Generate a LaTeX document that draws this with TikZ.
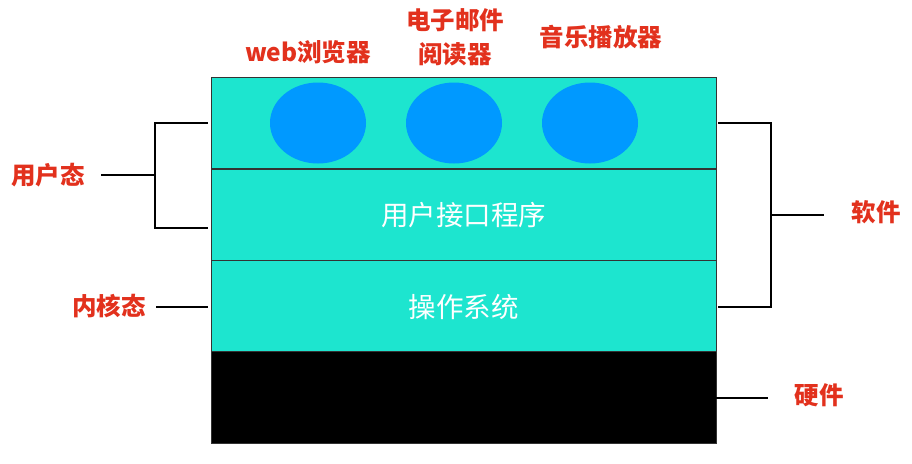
\documentclass[tikz,border=0pt]{standalone}
\usepackage{fontspec}
\newfontfamily\cjk{Noto Sans CJK SC}
\usepackage{tikz}
\usetikzlibrary{shapes.geometric}
\definecolor{layercol}{HTML}{1DE5CF}
\definecolor{appcol}{HTML}{0099FF}
\definecolor{labelcol}{HTML}{E2311D}
\tikzset{layer/.style = {shape=rectangle,draw=black!80,line width=1pt,fill=layercol,minimum width=505pt,minimum height=91.5pt,inner sep=0pt}}
\tikzset{hwlayer/.style = {layer,fill=black}}
\tikzset{app/.style = {shape=ellipse,fill=appcol,minimum width=96pt,minimum height=81pt,inner sep=0pt}}
\tikzset{lbl/.style = {text=labelcol,font=\cjk\bfseries\fontsize{24.5}{34}\selectfont,align=center,inner sep=0pt}}
\tikzset{inlbl/.style = {text=white,font=\cjk\fontsize{27.5}{30}\selectfont,inner sep=0pt}}
\tikzset{brace/.style = {line width=2.2pt,line cap=rect}}

\begin{document}
\begin{tikzpicture}[x=1pt,y=-1pt]
            \useasboundingbox (0,0) rectangle (912,463);
            % layers
            \node[layer] (apps) at (463.5,123) {};
            \node[layer] (ui) at (463.5,215) {};
            \node[layer] (os) at (463.5,306.5) {};
            \node[hwlayer] (hw) at (463.5,397.5) {};
            \node[inlbl] (uitext) at (463.5,215) {用户接口程序};
            \node[inlbl] (ostext) at (463.5,307) {操作系统};
            % applications
            \node[app] (web) at (318,123) {};
            \node[app] (mail) at (454,123) {};
            \node[app] (music) at (590,123) {};
            \node[lbl] (webtext) at (308,52) {web浏览器};
            \node[lbl] (mailtext) at (455,37) {电子邮件\\阅读器};
            \node[lbl] (musictext) at (601,37) {音乐播放器};
            % left side
            \node[lbl] (user) at (48,175) {用户态};
            \node[lbl] (kernel) at (109,306) {内核态};
            \coordinate (u1) at (207,123);
            \coordinate (u2) at (155,123);
            \coordinate (u3) at (155,228);
            \coordinate (u4) at (207,228);
            \coordinate (um) at (155,175);
            \coordinate (k1) at (157,307);
            \coordinate (k2) at (207,307);
            \draw[brace] (u1) -- (u2) -- (u3) -- (u4);
            \draw[brace] (user.east) ++(17,0) -- (um);
            \draw[brace] (k1) -- (k2);
            % right side
            \node[lbl] (soft) at (876,212) {软件};
            \node[lbl] (hard) at (819,395) {硬件};
            \coordinate (s1) at (719,123);
            \coordinate (s2) at (771,123);
            \coordinate (s3) at (771,307);
            \coordinate (s4) at (719,307);
            \coordinate (sm) at (771,215);
            \coordinate (s5) at (823,215);
            \coordinate (h1) at (716,398);
            \coordinate (h2) at (767,398);
            \draw[brace] (s1) -- (s2) -- (s3) -- (s4);
            \draw[brace] (sm) -- (s5);
            \draw[brace] (h1) -- (h2);
        \end{tikzpicture}
\end{document}
